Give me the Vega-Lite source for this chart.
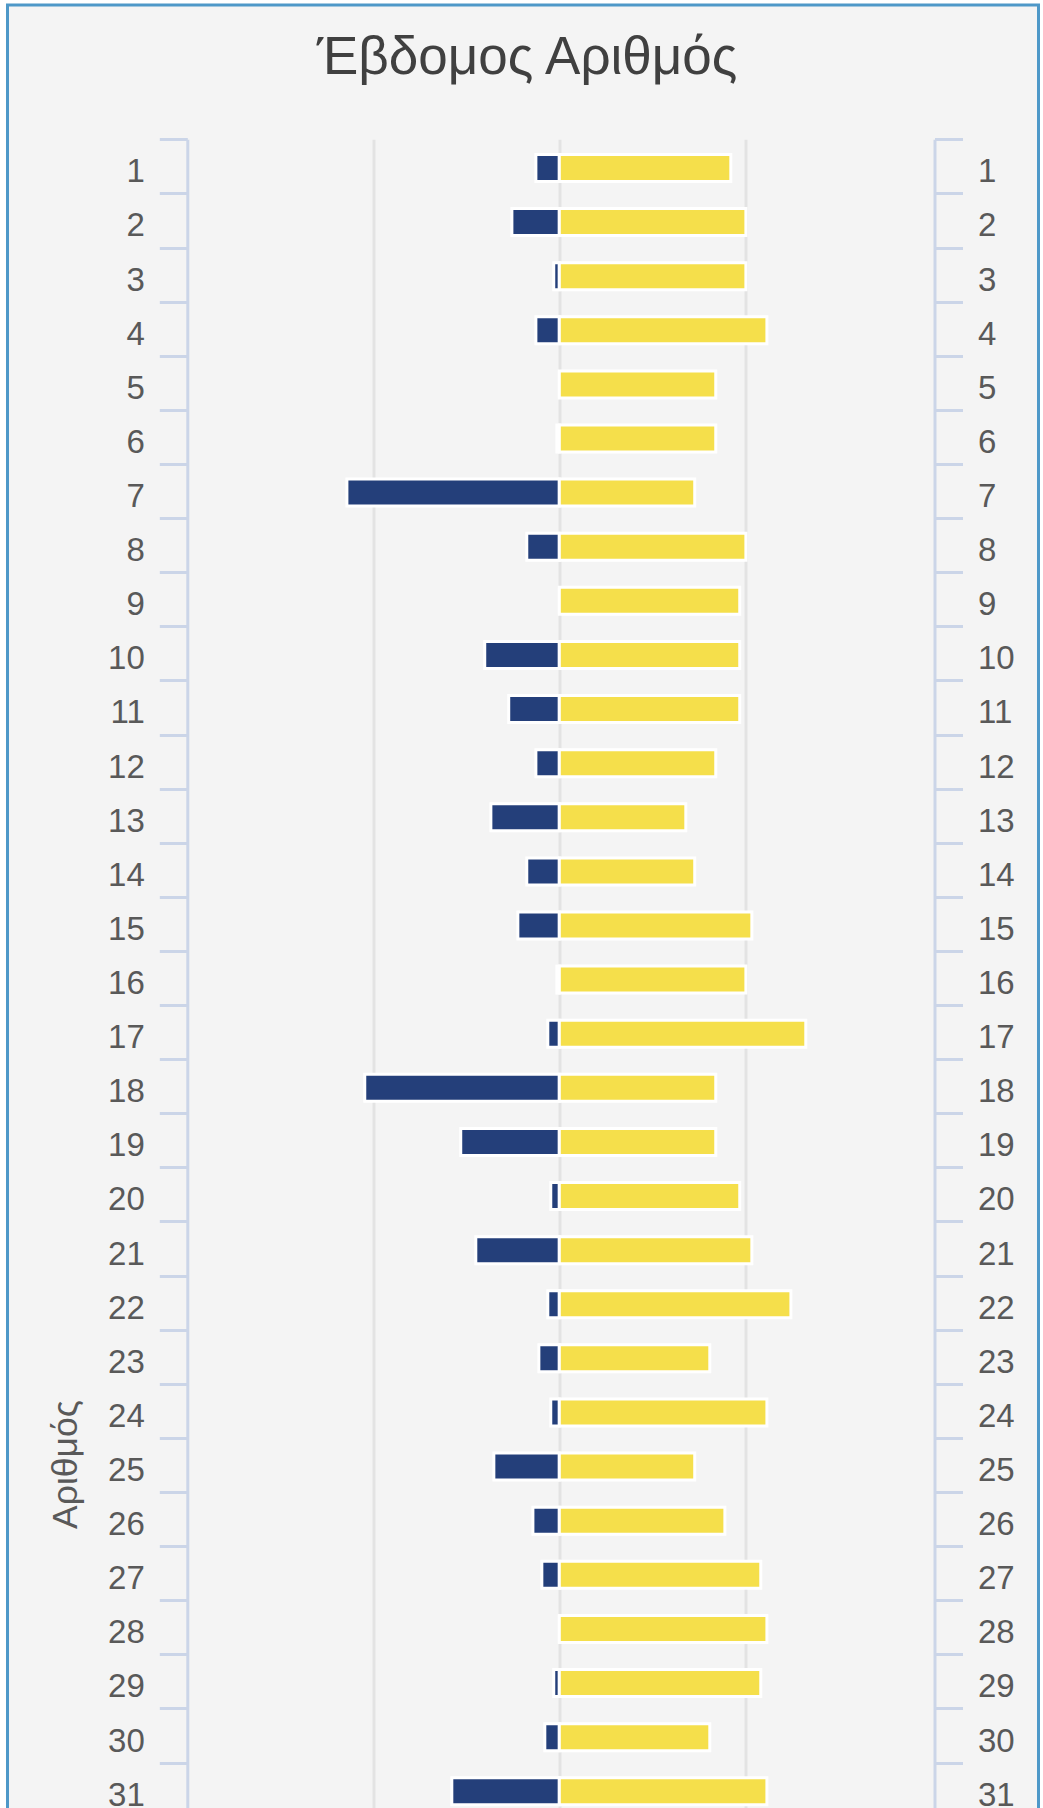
{
  "$schema": "https://vega.github.io/schema/vega-lite/v6.json",
  "width": 1031,
  "height": 1900,
  "autosize": {"type": "none"},
  "padding": {"left": 7.5, "top": 5, "right": 4.5, "bottom": 0},
  "background": "#ffffff",
  "title": {
    "text": "Έβδομος Αριθμός",
    "fontSize": 53,
    "font": "Liberation Sans",
    "fontWeight": "normal",
    "color": "#404040",
    "anchor": "middle",
    "offset": -96,
    "dx": 4
  },
  "data": {
    "values": [
      {"n": 1, "neg": -0.126, "pos": 0.922},
      {"n": 2, "neg": -0.255, "pos": 1.003},
      {"n": 3, "neg": -0.030, "pos": 1.003},
      {"n": 4, "neg": -0.126, "pos": 1.116},
      {"n": 5, "neg": 0, "pos": 0.841},
      {"n": 6, "neg": -0.013, "pos": 0.841},
      {"n": 7, "neg": -1.142, "pos": 0.728},
      {"n": 8, "neg": -0.175, "pos": 1.003},
      {"n": 9, "neg": 0, "pos": 0.970},
      {"n": 10, "neg": -0.401, "pos": 0.970},
      {"n": 11, "neg": -0.272, "pos": 0.970},
      {"n": 12, "neg": -0.126, "pos": 0.841},
      {"n": 13, "neg": -0.368, "pos": 0.680},
      {"n": 14, "neg": -0.175, "pos": 0.728},
      {"n": 15, "neg": -0.223, "pos": 1.035},
      {"n": 16, "neg": -0.013, "pos": 1.003},
      {"n": 17, "neg": -0.062, "pos": 1.325},
      {"n": 18, "neg": -1.046, "pos": 0.841},
      {"n": 19, "neg": -0.530, "pos": 0.841},
      {"n": 20, "neg": -0.046, "pos": 0.970},
      {"n": 21, "neg": -0.449, "pos": 1.035},
      {"n": 22, "neg": -0.062, "pos": 1.245},
      {"n": 23, "neg": -0.110, "pos": 0.809},
      {"n": 24, "neg": -0.046, "pos": 1.116},
      {"n": 25, "neg": -0.352, "pos": 0.728},
      {"n": 26, "neg": -0.142, "pos": 0.890},
      {"n": 27, "neg": -0.094, "pos": 1.083},
      {"n": 28, "neg": 0, "pos": 1.116},
      {"n": 29, "neg": -0.030, "pos": 1.083},
      {"n": 30, "neg": -0.078, "pos": 0.809},
      {"n": 31, "neg": -0.578, "pos": 1.116}
    ]
  },
  "transform": [{"fold": ["neg", "pos"], "as": ["series", "value"]}],
  "layer": [
    {
      "mark": {"type": "bar", "size": 27, "stroke": "#ffffff", "strokeWidth": 3, "yOffset": 1.6},
      "encoding": {
        "x": {
          "field": "value",
          "type": "quantitative",
          "scale": {"domain": [-2, 2.017], "range": [179.8, 927], "nice": false, "zero": false},
          "axis": {
            "orient": "top",
            "grid": true,
            "values": [-1, 0, 1],
            "labels": false,
            "ticks": false,
            "domain": false,
            "title": null,
            "gridColor": "#e3e3e3",
            "gridWidth": 3
          }
        },
        "y": {
          "field": "n",
          "type": "ordinal",
          "sort": "ascending",
          "scale": {"range": [134.3, 1811.7], "paddingInner": 0, "paddingOuter": 0},
          "axis": {
            "orient": "left",
            "offset": -179.8,
            "tickBand": "extent",
            "tickSize": 28,
            "labelPadding": 15,
            "labelOffset": 5.5,
            "labelAngle": 0,
            "grid": false,
            "title": "Αριθμός",
            "titleX": -111,
            "titleY": 1459,
            "titleAngle": 270,
            "titleAlign": "center",
            "titleBaseline": "alphabetic",
            "titleFontSize": 35.5,
            "titleFontWeight": "normal",
            "titleColor": "#595959"
          }
        },
        "color": {
          "field": "series",
          "type": "nominal",
          "scale": {"domain": ["neg", "pos"], "range": ["#243f7a", "#f5df4b"]},
          "legend": null
        }
      }
    },
    {
      "mark": {"type": "tick", "opacity": 0},
      "encoding": {
        "y": {
          "field": "n",
          "type": "ordinal",
          "sort": "ascending",
          "axis": {
            "orient": "right",
            "offset": -104,
            "tickBand": "extent",
            "tickSize": 28,
            "labelPadding": 15,
            "labelOffset": 5.5,
            "labelAngle": 0,
            "grid": false,
            "title": null
          }
        }
      }
    }
  ],
  "resolve": {"axis": {"y": "independent"}},
  "config": {
    "view": {"fill": "#f4f4f4", "stroke": "#4e98c8", "strokeWidth": 3},
    "axis": {
      "labelFont": "Liberation Sans",
      "labelFontSize": 33,
      "labelColor": "#595959",
      "domainColor": "#cbd5e8",
      "domainWidth": 3,
      "tickColor": "#cbd5e8",
      "tickWidth": 3,
      "titleFont": "Liberation Sans"
    }
  }
}
